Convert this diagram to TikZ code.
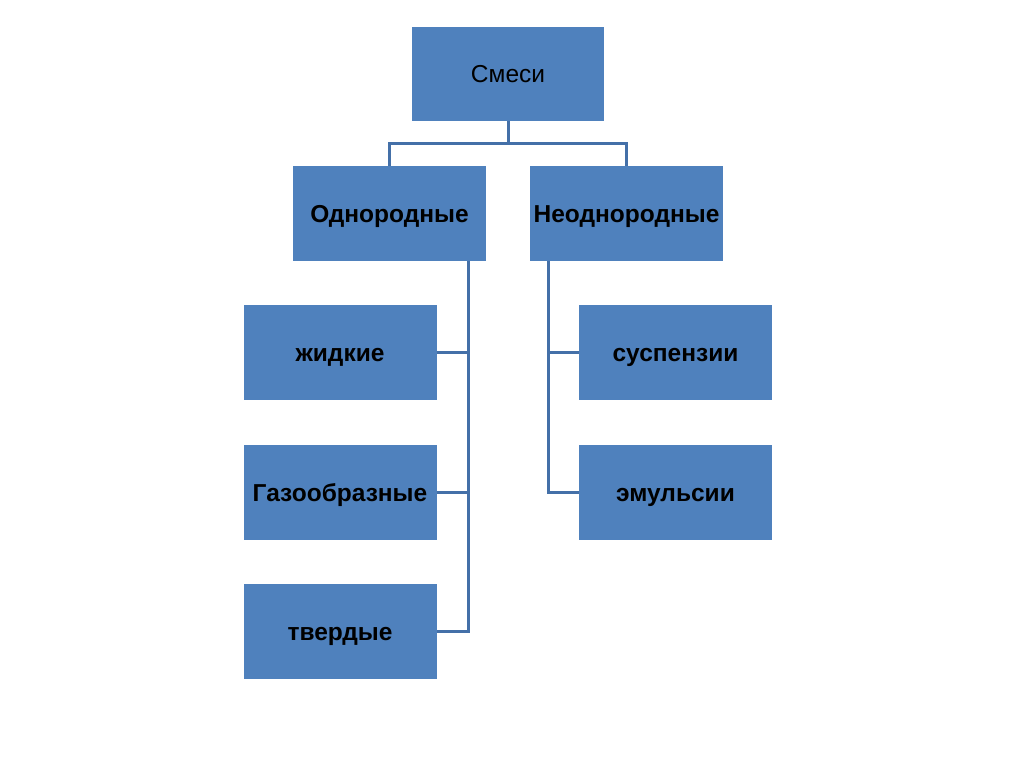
\documentclass[tikz,border=0pt]{standalone}
\usepackage{fontspec}
\setmainfont{Liberation Sans}
\definecolor{boxblue}{HTML}{4F81BD}
\definecolor{lineblue}{HTML}{4470A8}
\begin{document}
\begin{tikzpicture}[x=1pt,y=-1pt,
  box/.style={fill=boxblue,draw=none,minimum width=193pt,minimum height=95pt,inner sep=0pt,text height=18pt,text depth=0pt,font=\fontsize{24.5}{29}\selectfont\bfseries},
  link/.style={draw=lineblue,line width=3pt}]
\useasboundingbox[fill=white] (0,0) rectangle (1024,767);
\node[box,minimum width=192pt,minimum height=94pt,font=\fontsize{24.5}{29}\selectfont] (smesi) at (508,74) {Смеси};
\node[box] (odn) at (389.5,213.5) {Однородные};
\node[box] (neodn) at (626.5,213.5) {Неоднородные};
\node[box] (zhid) at (340,352.5) {жидкие};
\node[box] (gaz) at (340,492) {Газообразные};
\node[box] (tverd) at (340,631.5) {твердые};
\node[box] (susp) at (675.5,352.5) {суспензии};
\node[box] (emul) at (675.5,492) {эмульсии};
\coordinate (j) at (508,144);
\coordinate (lt) at (468,261);
\coordinate (rt) at (548,261);
\draw[link] (smesi.south) -- (j);
\draw[link] (j) -| (odn.north);
\draw[link] (j) -| (neodn.north);
\draw[link] (lt) |- (tverd.east);
\draw[link] (zhid.east) -- (zhid.east -| lt);
\draw[link] (gaz.east) -- (gaz.east -| lt);
\draw[link] (rt) |- (emul.west);
\draw[link] (susp.west) -- (susp.west -| rt);
\end{tikzpicture}
\end{document}
